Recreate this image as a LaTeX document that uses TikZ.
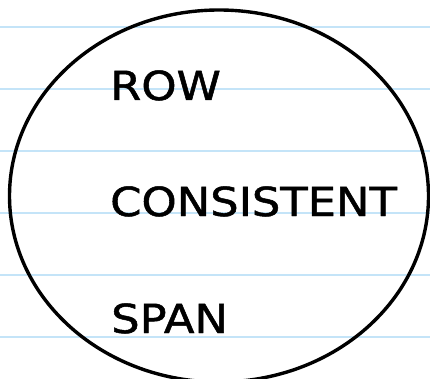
\documentclass[tikz,border=0pt]{standalone}
\usepackage{fontspec}
\setmainfont{DejaVu Sans}
\newfontfamily\handfont{DejaVu Sans}[FakeBold=1.2]
\usetikzlibrary{shapes.geometric}
\definecolor{ruleblue}{RGB}{196,228,248}
\begin{document}
\begin{tikzpicture}[x=1pt,y=-1pt,
  ruled/.style={draw=ruleblue, line width=2pt},
  outline/.style={draw=black, line width=3.4pt},
  word/.style={anchor=base west, inner sep=0pt, font=\handfont\fontsize{40}{40}\selectfont}]
\useasboundingbox (0,0) rectangle (430,379);
\fill[white] (0,0) rectangle (430,379);
\foreach \k in {0,...,5} {
  \coordinate (l\k a) at (0,{26.8+62.1*\k});
  \coordinate (l\k b) at (430,{26.8+62.1*\k});
  \draw[ruled] (l\k a) -- (l\k b);
}
\node[outline, ellipse, minimum width=419pt, minimum height=372pt, inner sep=0pt] (oval) at (219,196) {};
\node[word] (row) at (110,100) {\scalebox{1.12}[1]{ROW}};
\node[word] (cons) at (110,216) {\scalebox{1.12}[1]{CONSISTENT}};
\node[word] (span) at (111,333) {\scalebox{1.12}[1]{SPAN}};
\end{tikzpicture}
\end{document}
